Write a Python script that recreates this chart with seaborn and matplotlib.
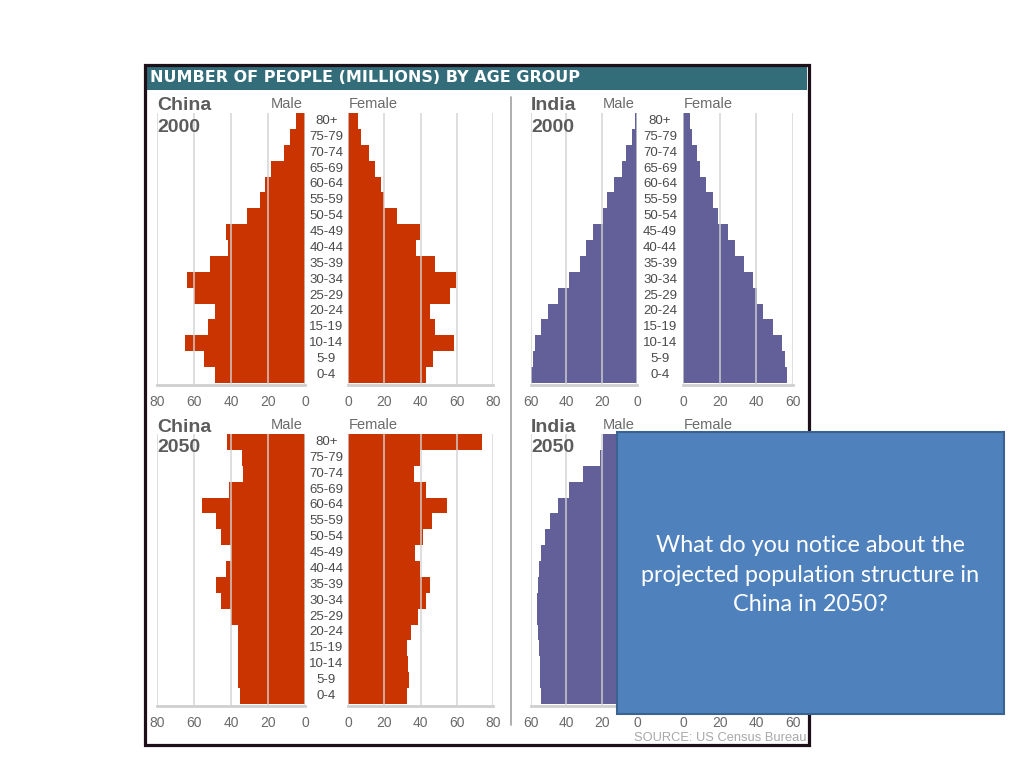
import matplotlib
matplotlib.use("Agg")
import matplotlib.pyplot as plt
import matplotlib.patches as mpatches
import matplotlib.transforms as mtrans
import pandas as pd
import seaborn as sns

# --- data (millions) ---
age_groups = ["80+", "75-79", "70-74", "65-69", "60-64", "55-59", "50-54", "45-49",
              "40-44", "35-39", "30-34", "25-29", "20-24", "15-19", "10-14", "5-9", "0-4"]

china_2000_male = [4.7, 8.2, 11.1, 18.2, 21.5, 24.5, 31.5, 42.7, 41.5, 51.6, 63.6, 60.0, 48.5, 52.5, 64.7, 54.5, 48.5]
china_2000_female = [5.4, 6.9, 11.6, 15.0, 18.2, 19.7, 27.2, 39.8, 37.5, 48.2, 59.5, 56.3, 45.0, 48.2, 58.5, 46.9, 43.0]
india_2000_male = [1.0, 3.0, 6.0, 8.5, 13.0, 17.0, 19.2, 25.0, 29.0, 32.3, 38.5, 45.0, 50.4, 54.3, 57.5, 58.6, 60.0]
india_2000_female = [4.0, 4.9, 7.6, 9.0, 12.3, 16.3, 19.3, 24.4, 28.4, 33.3, 38.0, 40.5, 43.4, 49.2, 54.2, 55.5, 56.8]
china_2050_male = [42.3, 34.2, 33.3, 41.0, 55.5, 48.3, 45.6, 39.8, 42.9, 48.3, 45.2, 39.8, 36.2, 36.2, 36.2, 36.0, 35.1]
china_2050_female = [74.0, 39.8, 36.6, 43.0, 54.4, 46.3, 41.3, 37.0, 39.8, 45.0, 43.0, 38.8, 34.5, 32.6, 33.2, 33.8, 32.6]
india_2050_male = [19.2, 21.0, 30.5, 38.5, 45.0, 49.2, 52.0, 54.5, 55.5, 56.2, 56.4, 56.4, 55.8, 55.5, 55.0, 55.0, 54.3]
india_2050_female = [27.0, 25.0, 33.0, 40.0, 46.0, 49.5, 51.5, 53.5, 54.0, 54.0, 53.5, 53.0, 52.5, 52.0, 51.5, 51.5, 51.0]

china_ticks = [0, 20, 40, 60, 80]
india_ticks = [0, 20, 40, 60]

RED = "#c93400"
PURPLE = "#625f99"
GREY_TXT = "#5c5c5c"

sns.set_style("white")
plt.rcParams["font.family"] = ["Liberation Sans", "DejaVu Sans"]

W, H = 1024, 768
fig = plt.figure(figsize=(W / 100, H / 100), dpi=100)
fig.patch.set_facecolor("white")


def px_axes(x0, y0, x1, y1):
    return fig.add_axes([x0 / W, 1 - y1 / H, (x1 - x0) / W, (y1 - y0) / H])


def half_pyramid(ax, values, color, ticks, male):
    df = pd.DataFrame({"age": age_groups, "pop": values})
    sns.barplot(data=df, x="pop", y="age", orient="h", color=color, width=1.0,
                saturation=1, linewidth=0, ax=ax, zorder=2)
    top = ticks[-1]
    ax.set_xlim((top, 0) if male else (0, top))
    ax.set_ylim(16.63, -0.5)
    for t in ticks:
        ax.axvline(t, color="#d2d2d2", lw=1.3, alpha=0.8, zorder=3)
    ax.set_xticks(ticks)
    ax.set_xticklabels([str(t) for t in ticks])
    ax.tick_params(axis="x", length=0, pad=7, labelsize=10, labelcolor="#6a6a6a")
    ax.set_yticks([])
    ax.set_xlabel("")
    ax.set_ylabel("")
    ax.patch.set_alpha(0)
    for s in ["top", "left", "right"]:
        ax.spines[s].set_visible(False)
    ax.spines["bottom"].set_color("#cfcfcf")
    ax.spines["bottom"].set_linewidth(2)


def panel(country, year, male_vals, female_vals, color, ticks, xm0, x0, xf0, xf1, ytop,
          age_labels=True):
    ybot = ytop + 272
    axm = px_axes(xm0, ytop, x0, ybot)
    axf = px_axes(xf0, ytop, xf1, ybot)
    half_pyramid(axm, male_vals, color, ticks, True)
    half_pyramid(axf, female_vals, color, ticks, False)
    # age labels between the halves (hidden under the text box for India 2050)
    if age_labels:
        tr = mtrans.blended_transform_factory(fig.transFigure, axm.transData)
        xc = (x0 + xf0) / 2 / W
        for i, a in enumerate(age_groups):
            axm.text(xc, i, a, transform=tr, ha="center", va="center",
                     fontsize=9.5, color="#4a4a4a")
    fig.text(xm0 / W, 1 - (ytop - 7) / H, country, fontsize=14, fontweight="bold",
             color=GREY_TXT, ha="left", va="center")
    fig.text(xm0 / W, 1 - (ytop + 14) / H, year, fontsize=14, fontweight="bold",
             color=GREY_TXT, ha="left", va="center")
    fig.text((x0 - 2) / W, 1 - (ytop - 9) / H, "Male", fontsize=10.5,
             color="#6a6a6a", ha="right", va="center")
    fig.text((xf0 + 1) / W, 1 - (ytop - 9) / H, "Female", fontsize=10.5,
             color="#6a6a6a", ha="left", va="center")


# frame and header of the embedded graphic
fig.add_artist(mpatches.Rectangle((144.5 / W, 1 - 744.5 / H), 664 / W, 680 / H,
                                  transform=fig.transFigure, facecolor="none",
                                  edgecolor="#1e1019", lw=2.3, zorder=5))
fig.add_artist(mpatches.Rectangle((146 / W, 1 - 90 / H), 661 / W, 24 / H,
                                  transform=fig.transFigure, facecolor="#336d79",
                                  edgecolor="none", zorder=4))
fig.text(150 / W, 1 - 78 / H, "NUMBER OF PEOPLE (MILLIONS) BY AGE GROUP",
         fontsize=11.5, fontweight="bold", color="white", ha="left", va="center",
         family=["DejaVu Sans"], zorder=6)
fig.add_artist(plt.Line2D([510.5 / W, 510.5 / W], [1 - 97 / H, 1 - 725 / H],
                          transform=fig.transFigure, color="#a8a8a8", lw=1.3))

panel("China", "2000", china_2000_male, china_2000_female, RED, china_ticks,
      157, 305, 348, 493, 113)
panel("India", "2000", india_2000_male, india_2000_female, PURPLE, india_ticks,
      531, 637, 683, 793, 113)
panel("China", "2050", china_2050_male, china_2050_female, RED, china_ticks,
      157, 305, 348, 493, 434)
panel("India", "2050", india_2050_male, india_2050_female, PURPLE, india_ticks,
      531, 637, 683, 793, 434, age_labels=False)

fig.text(807 / W, 1 - 738 / H, "SOURCE: US Census Bureau", fontsize=9.3,
         color="#a8a8a8", ha="right", va="center")

# slide text box overlay
fig.add_artist(mpatches.Rectangle((617 / W, 1 - 714 / H), 387 / W, 282 / H,
                                  transform=fig.transFigure, facecolor="#4f81bd",
                                  edgecolor="#3b6391", lw=1.5, zorder=10))
fig.text(810.5 / W, 1 - 575 / H,
         "What do you notice about the\nprojected population structure in\nChina in 2050?",
         fontsize=16.8, color="white", ha="center", va="center", linespacing=1.48,
         family=["Lato", "DejaVu Sans"], zorder=11)

fig.savefig("out.png", dpi=100)
